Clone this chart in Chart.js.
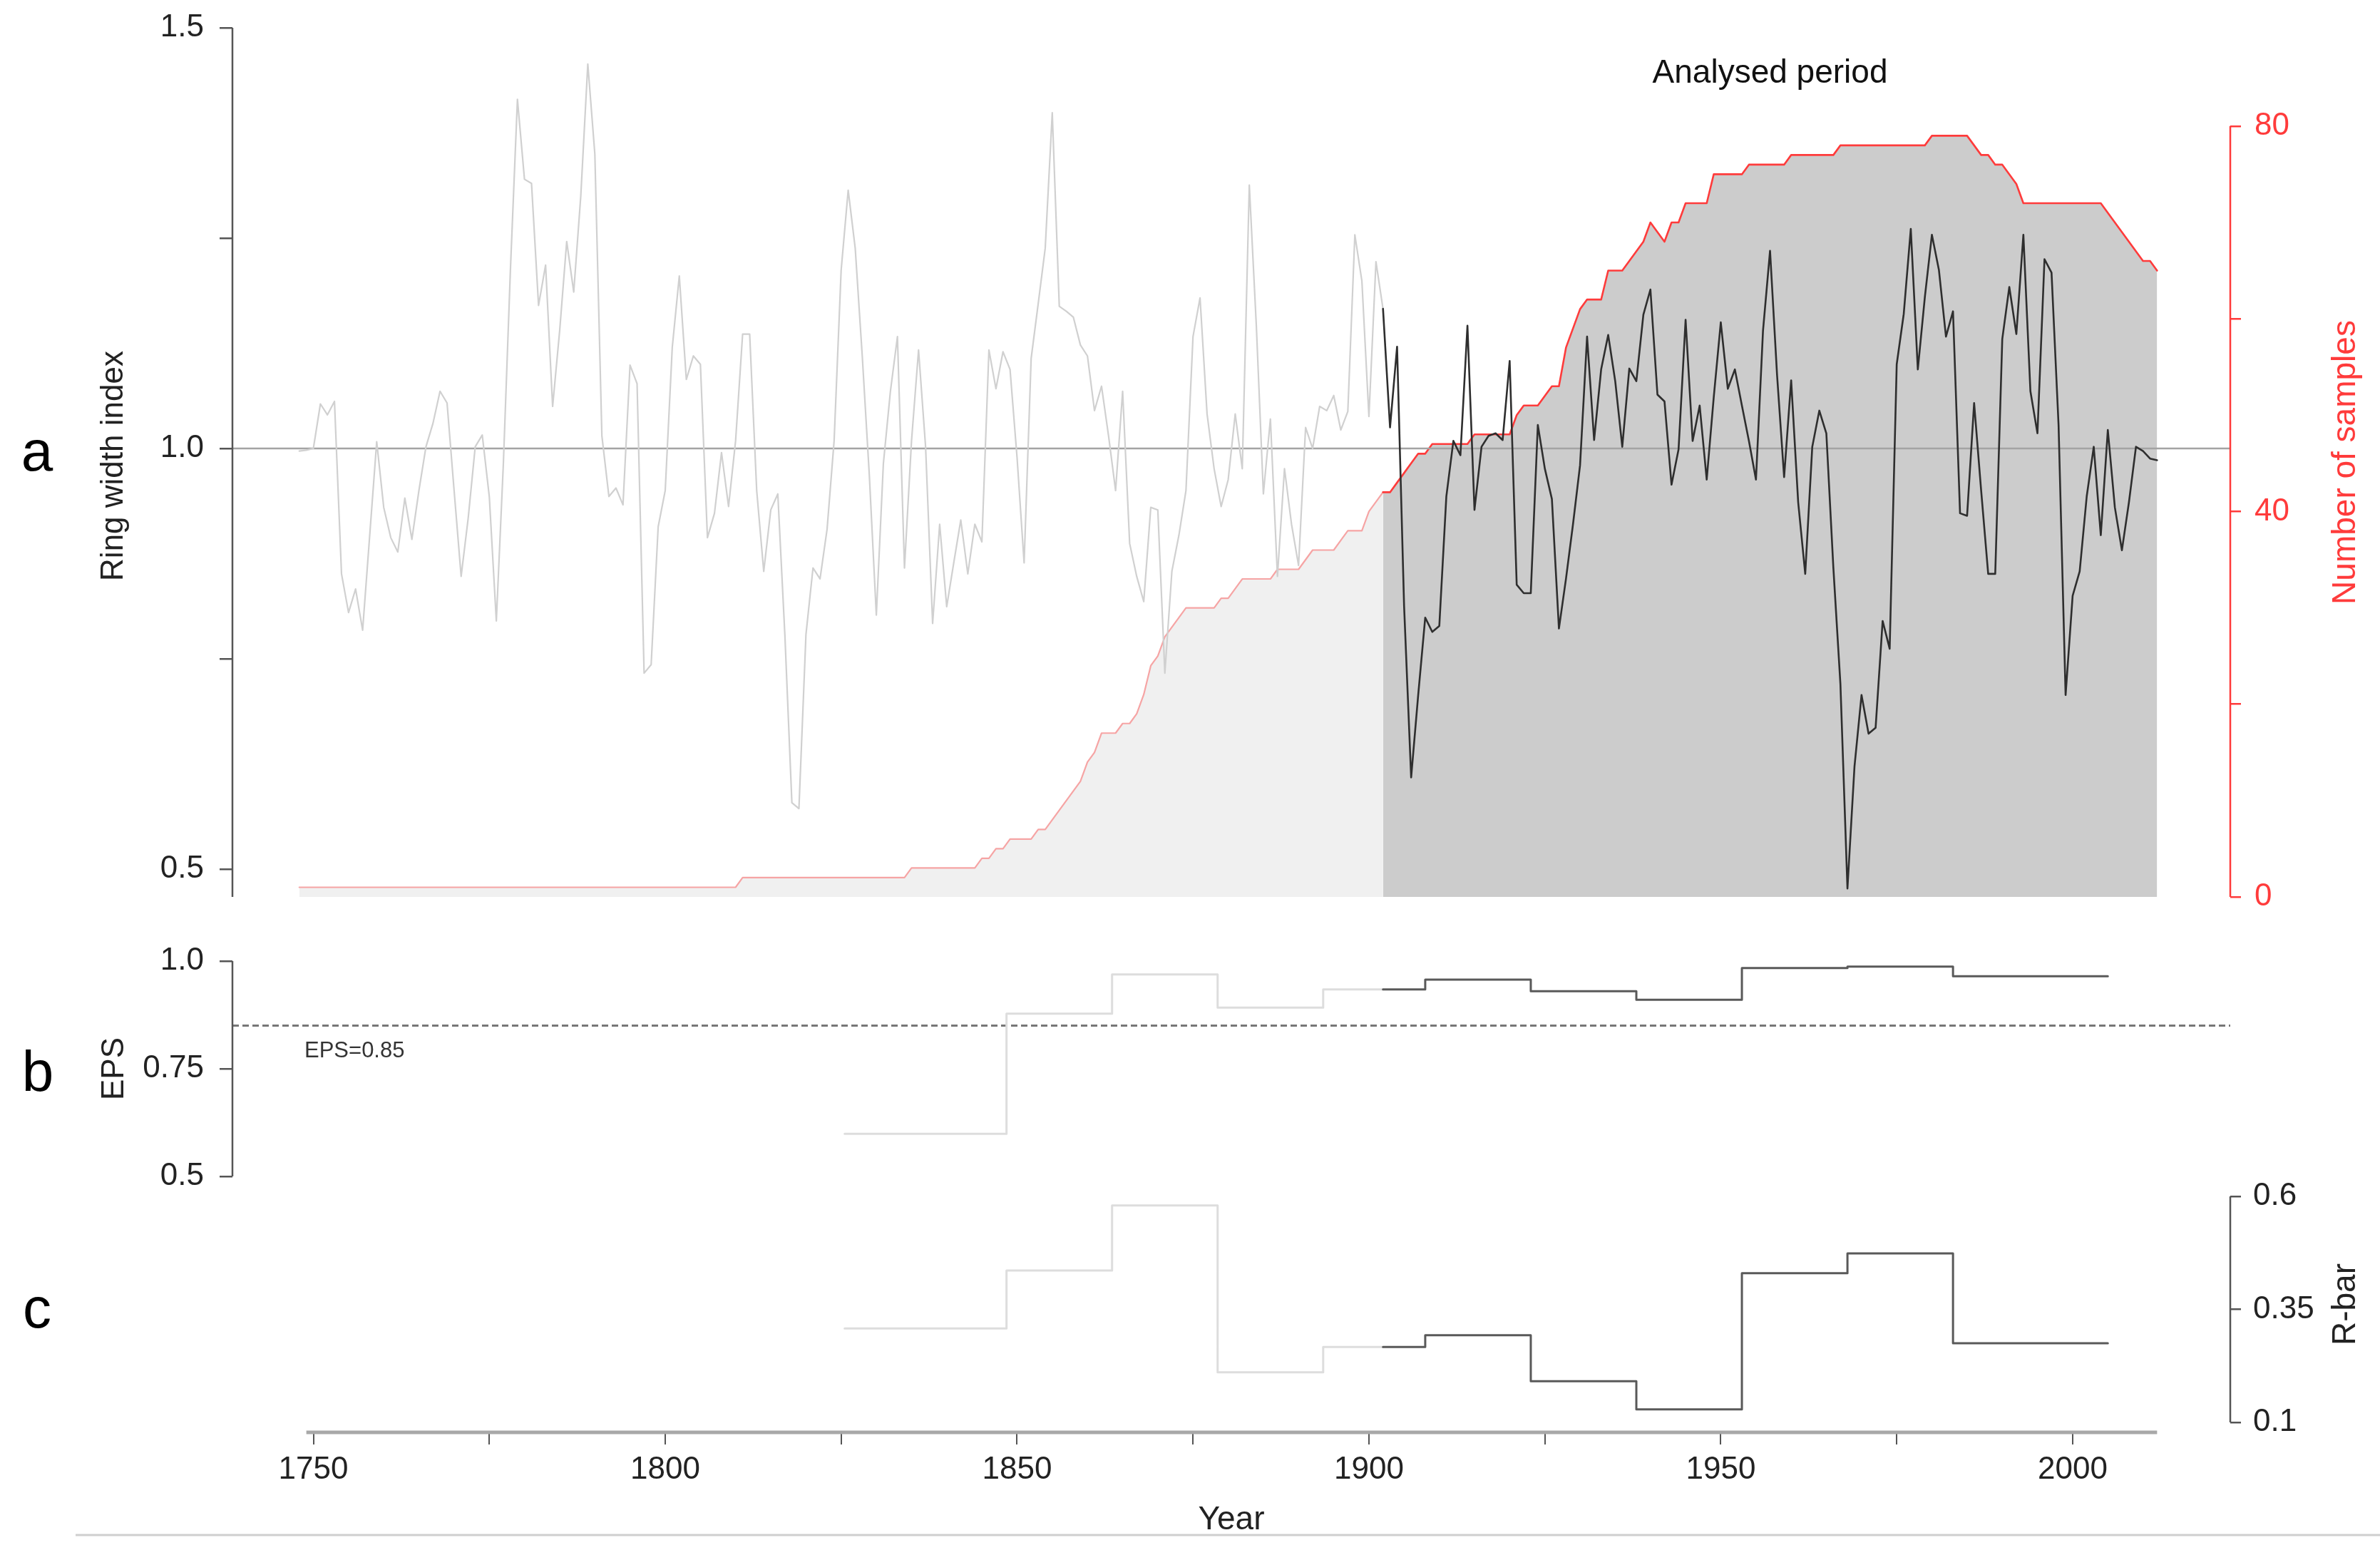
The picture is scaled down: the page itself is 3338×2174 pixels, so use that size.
<!DOCTYPE html>
<html>
<head>
<meta charset="utf-8">
<title>Ring width index, EPS and R-bar</title>
<script src="https://cdn.jsdelivr.net/npm/chart.js@4.4.1/dist/chart.umd.min.js"></script>
<style>
  html, body { margin: 0; padding: 0; background: #fff; }
  body { width: 3338px; height: 2174px; position: relative; overflow: hidden; }
  .panel { position: absolute; left: 0; width: 3338px; }
</style>
</head>
<body>
<div class="panel" style="top:0px;height:1300px"><canvas id="ringChart"></canvas></div>
<div class="panel" style="top:1290px;height:420px"><canvas id="epsChart"></canvas></div>
<div class="panel" style="top:1640px;height:534px"><canvas id="rbarChart"></canvas></div>
<script>
// ---- data ----
const FIRST_YEAR = 1748;
const ANALYSIS_START = 1902;

const ringWidth = [
  0.997, 0.998, 1.000, 1.053, 1.040, 1.056, 0.851, 0.805, 0.833, 0.784,
  0.896, 1.008, 0.930, 0.894, 0.877, 0.941, 0.892, 0.950, 1.002, 1.030,
  1.068, 1.054, 0.950, 0.848, 0.917, 1.002, 1.016, 0.943, 0.795, 0.982,
  1.212, 1.415, 1.320, 1.315, 1.170, 1.218, 1.050, 1.140, 1.246, 1.186,
  1.300, 1.457, 1.350, 1.015, 0.943, 0.953, 0.933, 1.099, 1.077, 0.733,
  0.743, 0.907, 0.950, 1.120, 1.205, 1.082, 1.110, 1.100, 0.894, 0.923,
  0.995, 0.931, 1.009, 1.136, 1.136, 0.950, 0.854, 0.927, 0.946, 0.779,
  0.579, 0.572, 0.779, 0.858, 0.845, 0.904, 1.009, 1.212, 1.307, 1.238,
  1.110, 0.969, 0.802, 0.982, 1.068, 1.133, 0.858, 1.009, 1.117, 1.002,
  0.792, 0.910, 0.812, 0.864, 0.915, 0.851, 0.910, 0.889, 1.117, 1.071,
  1.115, 1.094, 0.989, 0.864, 1.107, 1.172, 1.238, 1.399, 1.169, 1.163,
  1.156, 1.123, 1.110, 1.045, 1.074, 1.015, 0.950, 1.068, 0.887, 0.848,
  0.818, 0.930, 0.927, 0.733, 0.854, 0.897, 0.950, 1.133, 1.179, 1.041,
  0.976, 0.931, 0.963, 1.041, 0.976, 1.313, 1.146, 0.946, 1.035, 0.848,
  0.976, 0.910, 0.861, 1.025, 1.000, 1.050, 1.045, 1.063, 1.022, 1.044,
  1.254, 1.199, 1.038, 1.222, 1.166, 1.025, 1.121, 0.812, 0.609, 0.707,
  0.799, 0.782, 0.789, 0.943, 1.009, 0.992, 1.146, 0.927, 1.002, 1.015,
  1.018, 1.010, 1.104, 0.838, 0.828, 0.828, 1.028, 0.976, 0.940, 0.786,
  0.845, 0.910, 0.980, 1.133, 1.010, 1.094, 1.135, 1.080, 1.002, 1.095,
  1.080, 1.159, 1.189, 1.064, 1.056, 0.957, 0.999, 1.153, 1.009, 1.051,
  0.963, 1.061, 1.150, 1.071, 1.094, 1.051, 1.009, 0.963, 1.140, 1.235,
  1.087, 0.966, 1.081, 0.936, 0.851, 1.002, 1.045, 1.018, 0.858, 0.720,
  0.477, 0.622, 0.707, 0.661, 0.668, 0.795, 0.762, 1.100, 1.160, 1.261,
  1.094, 1.180, 1.254, 1.212, 1.133, 1.163, 0.923, 0.920, 1.054, 0.950,
  0.851, 0.851, 1.130, 1.192, 1.136, 1.254, 1.068, 1.018, 1.225, 1.209,
  1.028, 0.707, 0.825, 0.854, 0.943, 1.002, 0.897, 1.022, 0.930, 0.879,
  0.936, 1.002, 0.997, 0.988, 0.986
];

const sampleDepth = [
  1, 1, 1, 1, 1, 1, 1, 1, 1, 1,
  1, 1, 1, 1, 1, 1, 1, 1, 1, 1,
  1, 1, 1, 1, 1, 1, 1, 1, 1, 1,
  1, 1, 1, 1, 1, 1, 1, 1, 1, 1,
  1, 1, 1, 1, 1, 1, 1, 1, 1, 1,
  1, 1, 1, 1, 1, 1, 1, 1, 1, 1,
  1, 1, 1, 2, 2, 2, 2, 2, 2, 2,
  2, 2, 2, 2, 2, 2, 2, 2, 2, 2,
  2, 2, 2, 2, 2, 2, 2, 3, 3, 3,
  3, 3, 3, 3, 3, 3, 3, 4, 4, 5,
  5, 6, 6, 6, 6, 7, 7, 8, 9, 10,
  11, 12, 14, 15, 17, 17, 17, 18, 18, 19,
  21, 24, 25, 27, 28, 29, 30, 30, 30, 30,
  30, 31, 31, 32, 33, 33, 33, 33, 33, 34,
  34, 34, 34, 35, 36, 36, 36, 36, 37, 38,
  38, 38, 40, 41, 42, 42, 43, 44, 45, 46,
  46, 47, 47, 47, 47, 47, 47, 48, 48, 48,
  48, 48, 48, 50, 51, 51, 51, 52, 53, 53,
  57, 59, 61, 62, 62, 62, 65, 65, 65, 66,
  67, 68, 70, 69, 68, 70, 70, 72, 72, 72,
  72, 75, 75, 75, 75, 75, 76, 76, 76, 76,
  76, 76, 77, 77, 77, 77, 77, 77, 77, 78,
  78, 78, 78, 78, 78, 78, 78, 78, 78, 78,
  78, 78, 79, 79, 79, 79, 79, 79, 78, 77,
  77, 76, 76, 75, 74, 72, 72, 72, 72, 72,
  72, 72, 72, 72, 72, 72, 72, 71, 70, 69,
  68, 67, 66, 66, 65
];

// 30-year windows: left edges, last entry closes the final window
const windowEdges = [1825.5, 1848.5, 1863.5, 1878.5, 1893.5, 1908, 1923, 1938, 1953, 1968, 1983, 2005];
const epsValues  = [0.599, 0.878, 0.969, 0.892, 0.934, 0.957, 0.930, 0.910, 0.984, 0.987, 0.965];
const rbarValues = [0.308, 0.436, 0.580, 0.211, 0.267, 0.293, 0.191, 0.129, 0.430, 0.474, 0.275];
const EPS_THRESHOLD = 0.85;
const REF_INDEX = 1.0;

// ticks
const xTicks = [1750, 1775, 1800, 1825, 1850, 1875, 1900, 1925, 1950, 1975, 2000];
const xLabelled = [1750, 1800, 1850, 1900, 1950, 2000];
const xAxisSpan = [1749, 2012];
const ringTicks = [0.5, 0.75, 1.0, 1.25, 1.5];
const ringLabelled = [0.5, 1.0, 1.5];
const depthTicks = [0, 20, 40, 60, 80];
const depthLabelled = [0, 40, 80];
const epsTicks = [0.5, 0.75, 1.0];
const epsTickLabels = ['0.5', '0.75', '1.0'];
const rbarTicks = [0.1, 0.35, 0.6];
const rbarTickLabels = ['0.1', '0.35', '0.6'];

// ---- look ----
const FONT = "'Liberation Sans', Arial, Helvetica, sans-serif";
const RED = '#FF3B3B';
const AXIS = '#555555';
const TOP_B = 1290, TOP_C = 1640;
const X_MIN = 1738.5, X_MAX = 2022.4;
const LEFT_W = 326, RIGHT_W = 210;

Chart.defaults.font.family = FONT;
Chart.defaults.font.size = 44;
Chart.defaults.color = '#222';
Chart.defaults.animation = false;
Chart.defaults.events = [];
Chart.defaults.plugins.legend.display = false;
Chart.defaults.plugins.tooltip.enabled = false;

const years = ringWidth.map((_, i) => FIRST_YEAR + i);
const series = (vals, keep) => years.map((x, i) => ({x, y: vals[i]})).filter(p => keep(p.x));
const beforeStart = x => x <= ANALYSIS_START;
const fromStart = x => x >= ANALYSIS_START;

function stepSeries(vals) {
  const pts = vals.map((v, i) => ({x: windowEdges[i], y: v}));
  pts.push({x: windowEdges[windowEdges.length - 1], y: vals[vals.length - 1]});
  const k = windowEdges.findIndex(e => e > ANALYSIS_START) - 1;
  const joint = {x: ANALYSIS_START, y: vals[k]};
  return {
    light: pts.filter(p => p.x < ANALYSIS_START).concat([joint]),
    dark: [joint].concat(pts.filter(p => p.x > ANALYSIS_START))
  };
}

function line(ctx, x1, y1, x2, y2, color, width, dash) {
  ctx.save();
  ctx.strokeStyle = color;
  ctx.lineWidth = width;
  ctx.setLineDash(dash || []);
  ctx.beginPath();
  ctx.moveTo(x1, y1);
  ctx.lineTo(x2, y2);
  ctx.stroke();
  ctx.restore();
}

function text(ctx, str, x, y, opt) {
  const o = Object.assign({size: 44, color: '#222', align: 'center', rotate: false}, opt || {});
  ctx.save();
  ctx.font = o.size + 'px ' + FONT;
  ctx.fillStyle = o.color;
  ctx.textAlign = o.align;
  ctx.textBaseline = 'alphabetic';
  ctx.translate(x, y);
  if (o.rotate) ctx.rotate(-Math.PI / 2);
  ctx.fillText(str, 0, 0);
  ctx.restore();
}

function xAxis(show) {
  return {
    type: 'linear', display: show, min: X_MIN, max: X_MAX, bounds: 'data',
    afterBuildTicks: s => { s.ticks = xTicks.map(v => ({value: v})); },
    afterFit: s => {
      if (!show) return;
      s.height = 165; s.paddingLeft = 0; s.paddingRight = 0;
    },
    border: {display: false},
    grid: {drawOnChartArea: false, drawTicks: true, tickLength: 17, color: AXIS, lineWidth: 2},
    ticks: {padding: 9, autoSkip: false, maxRotation: 0, color: '#222',
            callback: v => xLabelled.includes(v) ? String(v) : ''}
  };
}

function yAxis(pos, min, max, ticks, label, opt) {
  return {
    type: 'linear', position: pos, min: min, max: max, bounds: 'data',
    afterBuildTicks: s => { s.ticks = ticks.map(v => ({value: v})); },
    afterFit: s => { s.width = pos === 'left' ? LEFT_W : RIGHT_W; s.paddingTop = 0; s.paddingBottom = 0; },
    border: {display: false},
    grid: {drawOnChartArea: false, drawTicks: true, tickLength: opt.tick, color: opt.color, lineWidth: 2.5},
    ticks: {padding: opt.pad, color: opt.textColor || '#222', autoSkip: false, callback: label}
  };
}

const lineStyle = {
  elements: {point: {radius: 0}, line: {tension: 0, borderJoinStyle: 'round', borderCapStyle: 'round'}}
};

// ---- panel a: ring width index and sample depth ----
const ringDecor = {
  id: 'ringDecor',
  beforeDatasetDraw(chart, args) {
    if (args.index !== 1) return;
    const {ctx, chartArea: a, scales: {y}} = chart;
    const py = y.getPixelForValue(REF_INDEX);
    line(ctx, a.left, py, a.right, py, '#A3A3A3', 2.5);
  },
  afterDraw(chart) {
    const {ctx, chartArea: a, scales: {x, y2}} = chart;
    const midY = (a.top + a.bottom) / 2;
    line(ctx, a.left, a.top, a.left, a.bottom, AXIS, 2.5);
    line(ctx, a.right, y2.getPixelForValue(depthTicks[0]), a.right,
         y2.getPixelForValue(depthTicks[depthTicks.length - 1]), RED, 2.5);
    text(ctx, 'a', 52, 660, {size: 80, color: '#000'});
    text(ctx, 'Ring width index', 172, midY + 5, {rotate: true});
    text(ctx, 'Number of samples', 3303, midY, {rotate: true, color: RED, size: 46});
    const mid = (ANALYSIS_START + years[years.length - 1]) / 2;
    text(ctx, 'Analysed period', x.getPixelForValue(mid), 116, {size: 46, color: '#111'});
  }
};

new Chart(document.getElementById('ringChart'), {
  type: 'line',
  data: {
    datasets: [
      {label: 'Ring width index, analysed period', data: series(ringWidth, fromStart),
       borderColor: '#2E2E2E', borderWidth: 2.6, yAxisID: 'y', order: 1},
      {label: 'Ring width index', data: series(ringWidth, beforeStart),
       borderColor: '#D0D0D0', borderWidth: 2.2, yAxisID: 'y', order: 2},
      {label: 'Number of samples, analysed period', data: series(sampleDepth, fromStart),
       borderColor: RED, borderWidth: 2.6, backgroundColor: '#CCCCCC', fill: 'origin', yAxisID: 'y2', order: 3},
      {label: 'Number of samples', data: series(sampleDepth, beforeStart),
       borderColor: '#F6A4A4', borderWidth: 2.2, backgroundColor: '#F0F0F0', fill: 'origin', yAxisID: 'y2', order: 4}
    ]
  },
  options: Object.assign({
    responsive: true, maintainAspectRatio: false,
    layout: {autoPadding: false, padding: {top: 39, bottom: 42, left: 0, right: 0}},
    scales: {
      x: xAxis(false),
      y: yAxis('left', 0.467, 1.5, ringTicks,
               v => ringLabelled.includes(v) ? v.toFixed(1) : '', {tick: 18, pad: 22, color: AXIS}),
      y2: yAxis('right', 0, 90.2, depthTicks,
                v => depthLabelled.includes(v) ? String(v) : '', {tick: 15, pad: 19, color: RED, textColor: RED})
    }
  }, lineStyle),
  plugins: [ringDecor]
});

// ---- panel b: EPS ----
const eps = stepSeries(epsValues);
const epsDecor = {
  id: 'epsDecor',
  beforeDatasetsDraw(chart) {
    const {ctx, chartArea: a, scales: {y}} = chart;
    const py = y.getPixelForValue(EPS_THRESHOLD);
    line(ctx, a.left, py, a.right, py, '#777777', 3, [9, 5]);
  },
  afterDraw(chart) {
    const {ctx, chartArea: a, scales: {y}} = chart;
    line(ctx, a.left, y.getPixelForValue(epsTicks[0]), a.left,
         y.getPixelForValue(epsTicks[epsTicks.length - 1]), AXIS, 2.5);
    text(ctx, 'b', 53, 1530 - TOP_B, {size: 80, color: '#000'});
    text(ctx, 'EPS', 173, (a.top + a.bottom) / 2, {rotate: true});
    text(ctx, 'EPS=' + EPS_THRESHOLD, a.left + 101, y.getPixelForValue(EPS_THRESHOLD) + 44,
         {size: 31, color: '#333', align: 'left'});
  }
};

new Chart(document.getElementById('epsChart'), {
  type: 'line',
  data: {
    datasets: [
      {label: 'EPS, analysed period', data: eps.dark, stepped: 'before',
       borderColor: '#595959', borderWidth: 3, order: 1},
      {label: 'EPS', data: eps.light, stepped: 'before',
       borderColor: '#DDDDDD', borderWidth: 3, order: 2}
    ]
  },
  options: Object.assign({
    responsive: true, maintainAspectRatio: false,
    layout: {autoPadding: false, padding: {top: 58, bottom: 60, left: 0, right: RIGHT_W}},
    scales: {
      x: xAxis(false),
      y: yAxis('left', 0.5, 1.0, epsTicks,
               v => epsTickLabels[epsTicks.indexOf(v)] || '', {tick: 18, pad: 22, color: AXIS})
    }
  }, lineStyle),
  plugins: [epsDecor]
});

// ---- panel c: R-bar and the shared year axis ----
const rbar = stepSeries(rbarValues);
const rbarDecor = {
  id: 'rbarDecor',
  afterDraw(chart) {
    const {ctx, chartArea: a, scales: {x, y}} = chart;
    line(ctx, a.right, y.getPixelForValue(rbarTicks[0]), a.right,
         y.getPixelForValue(rbarTicks[rbarTicks.length - 1]), AXIS, 2.5);
    line(ctx, x.getPixelForValue(xAxisSpan[0]), a.bottom, x.getPixelForValue(xAxisSpan[1]), a.bottom,
         '#A8A8A8', 5);
    line(ctx, 106, 2153 - TOP_C, 3338, 2153 - TOP_C, '#CFCFCF', 3);
    text(ctx, 'c', 52, 1862 - TOP_C, {size: 80, color: '#000'});
    text(ctx, 'R-bar', 3303, y.getPixelForValue(rbarTicks[1]) - 7, {rotate: true, size: 46});
    text(ctx, 'Year', (a.left + a.right) / 2, 2145 - TOP_C, {size: 46});
  }
};

new Chart(document.getElementById('rbarChart'), {
  type: 'line',
  data: {
    datasets: [
      {label: 'R-bar, analysed period', data: rbar.dark, stepped: 'before',
       borderColor: '#595959', borderWidth: 3, order: 1},
      {label: 'R-bar', data: rbar.light, stepped: 'before',
       borderColor: '#DDDDDD', borderWidth: 3, order: 2}
    ]
  },
  options: Object.assign({
    responsive: true, maintainAspectRatio: false,
    layout: {autoPadding: false, padding: {top: 38, bottom: 0, left: LEFT_W, right: 0}},
    scales: {
      x: xAxis(true),
      y: yAxis('right', 0.078, 0.6, rbarTicks,
               v => rbarTickLabels[rbarTicks.indexOf(v)] || '', {tick: 15, pad: 17, color: AXIS})
    }
  }, lineStyle),
  plugins: [rbarDecor]
});
</script>
</body>
</html>
